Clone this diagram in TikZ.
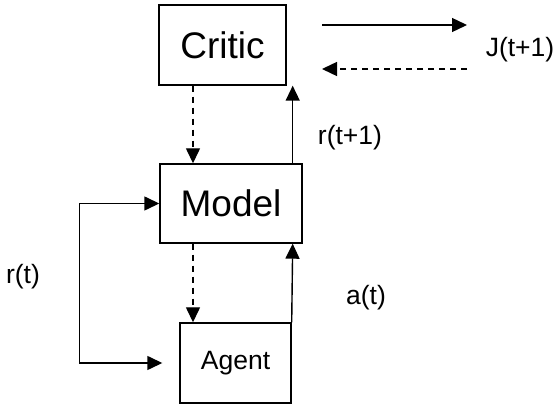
\documentclass[tikz,border=0pt]{standalone}
\usepackage{fontspec}
\setmainfont{Liberation Sans}
\usetikzlibrary{arrows.meta}

\begin{document}
\begin{tikzpicture}[x=1pt,y=-1pt,line width=1.4pt,>={Triangle[length=15pt,width=14pt]},
    main node/.style={rectangle,draw,inner sep=0pt},
    lbl/.style={font=\fontsize{26.5}{30}\selectfont},
    dash line/.style={dash pattern=on 6pt off 5pt}]
    \useasboundingbox (0,0) rectangle (558,406);
    \node[main node,minimum width=127pt,minimum height=80pt,font=\fontsize{37}{40}\selectfont] (critic) at (222.5,45) {Critic};
    \node[main node,minimum width=142pt,minimum height=79pt,font=\fontsize{37}{40}\selectfont] (model) at (231,203.5) {Model};
    \node[main node,minimum width=111pt,minimum height=80pt,font=\fontsize{26.5}{30}\selectfont] (agent) at (235.5,363) {Agent};
    \coordinate (jout1) at (322,25);
    \coordinate (jout2) at (467,25);
    \coordinate (jin1) at (467,69);
    \coordinate (jin2) at (322,69);

    \node[lbl] (j) at (520,50) {J(t+1)};
    \node[lbl] (r1) at (350,138) {r(t+1)};
    \node[lbl] (a) at (366,298) {a(t)};
    \node[lbl] (r) at (23,277) {r(t)};

    \path[->]
        (jout1) edge (jout2)
        (jin1) edge[dash line] (jin2)
        ([xshift=-29.5pt]critic.south) edge[dash line] ([xshift=-38pt]model.north)
        ([xshift=-10pt]model.north east) edge ([xshift=6pt]critic.south east)
        ([xshift=-38pt]model.south) edge[dash line] ([xshift=-42.5pt]agent.north)
        (agent.north east) edge ([xshift=-10pt]model.south east);
    \draw[<->] (model.west) -- ++(-80,0) |- ([xshift=-17pt]agent.west);
\end{tikzpicture}
\end{document}
